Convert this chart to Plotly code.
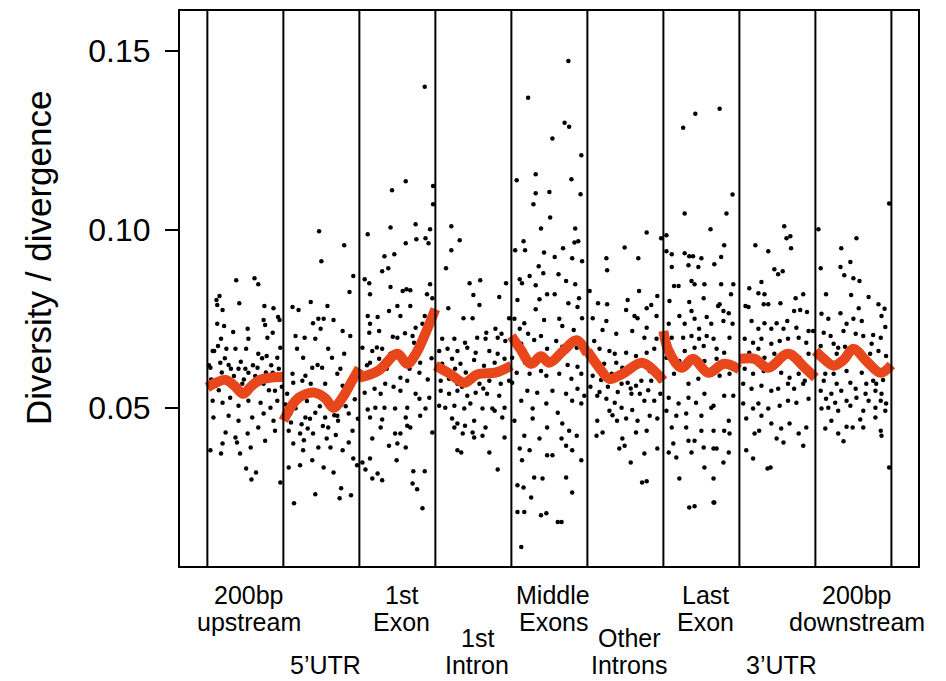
import plotly.graph_objects as go

# ---------------- data ----------------
regions = ["200bp\nupstream", "5’UTR", "1st\nExon", "1st\nIntron", "Middle\nExons",
           "Other\nIntrons", "Last\nExon", "3’UTR", "200bp\ndownstream"]

y_ticks = [0.05, 0.10, 0.15]
y_tick_text = ["0.05", "0.10", "0.15"]

# (relative position within region, diversity/divergence)
upstream_pts = [
    (0.38,0.0858),(0.62,0.0864),(0.67,0.0847),(0.16,0.0814),(0.12,0.0803),(0.13,0.0789),(0.20,0.0775),(0.42,0.0794),(0.75,0.0786),(0.87,0.0780),
    (0.13,0.0736),(0.22,0.0730),(0.53,0.0722),(0.74,0.0747),(0.76,0.0733),(0.93,0.0755),(0.95,0.0747),
    (0.34,0.0713),(0.54,0.0694),(0.18,0.0694),(0.79,0.0697),(0.86,0.0711),
    (0.07,0.0660),(0.14,0.0674),(0.25,0.0666),(0.37,0.0666),(0.51,0.0666),(0.67,0.0652),(0.78,0.0646),(0.92,0.0641),(0.96,0.0669),
    (0.04,0.0613),(0.17,0.0627),(0.28,0.0621),(0.41,0.0610),(0.54,0.0599),(0.66,0.0613),(0.86,0.0599),
    (0.11,0.0563),(0.21,0.0577),(0.33,0.0563),(0.46,0.0568),(0.59,0.0557),(0.74,0.0568),(0.89,0.0549),
    (0.07,0.0521),(0.20,0.0515),(0.30,0.0529),(0.41,0.0507),(0.54,0.0521),(0.70,0.0515),(0.83,0.0501),(0.92,0.0521),
    (0.08,0.0474),(0.28,0.0479),(0.41,0.0465),(0.59,0.0474),(0.74,0.0485),(0.87,0.0465),
    (0.24,0.0432),(0.37,0.0418),(0.53,0.0429),(0.67,0.0446),(0.89,0.0437),
    (0.20,0.0401),(0.39,0.0404),(0.57,0.0390),(0.76,0.0409),
    (0.04,0.0382),(0.18,0.0373),(0.43,0.0373),
    (0.51,0.0331),(0.64,0.0320),(0.58,0.0300),(0.96,0.0292),
    (0.02,0.0620),(0.05,0.0580),(0.09,0.0660),(0.15,0.0550),(0.19,0.0600),(0.23,0.0640),(0.27,0.0570),(0.31,0.0610),
    (0.35,0.0590),(0.39,0.0550),(0.44,0.0630),(0.48,0.0580),(0.50,0.0610),(0.56,0.0560),(0.60,0.0620),(0.63,0.0590),
    (0.69,0.0570),(0.72,0.0640),(0.77,0.0600),(0.81,0.0550),(0.84,0.0620),(0.90,0.0580),(0.94,0.0610),(0.98,0.0560),
]

utr5_pts = [
    (0.47,0.0995),(0.50,0.0911),(0.80,0.0956),(0.92,0.0870),(0.87,0.0825),
    (0.36,0.0797),(0.12,0.0783),(0.20,0.0775),(0.58,0.0786),
    (0.46,0.0750),(0.39,0.0738),(0.53,0.0750),(0.66,0.0747),(0.78,0.0716),(0.88,0.0702),(0.80,0.0652),
    (0.16,0.0702),(0.28,0.0697),(0.42,0.0694),(0.49,0.0722),
    (0.18,0.0666),(0.26,0.0641),(0.45,0.0621),(0.59,0.0666),(0.64,0.0641),(0.75,0.0610),
    (0.12,0.0596),(0.29,0.0591),(0.38,0.0613),(0.51,0.0613),(0.78,0.0563),(0.92,0.0577),
    (0.13,0.0571),(0.25,0.0577),(0.36,0.0568),(0.55,0.0568),(0.71,0.0596),
    (0.05,0.0540),(0.18,0.0535),(0.42,0.0540),(0.84,0.0563),
    (0.09,0.0485),(0.29,0.0474),(0.42,0.0487),(0.55,0.0474),(0.71,0.0479),(0.86,0.0485),
    (0.07,0.0437),(0.22,0.0429),(0.32,0.0443),(0.39,0.0429),(0.59,0.0446),(0.72,0.0465),(0.91,0.0437),
    (0.13,0.0401),(0.26,0.0382),(0.46,0.0390),(0.62,0.0390),(0.78,0.0382),(0.86,0.0404),
    (0.07,0.0334),(0.22,0.0340),(0.38,0.0354),(0.53,0.0334),(0.66,0.0320),(0.92,0.0359),(0.97,0.0340),
    (0.14,0.0234),(0.42,0.0259),(0.76,0.0276),(0.74,0.0248),(0.89,0.0256),
    (0.03,0.0510),(0.10,0.0460),(0.16,0.0500),(0.24,0.0455),(0.31,0.0520),(0.35,0.0470),(0.48,0.0505),(0.52,0.0450),
    (0.60,0.0520),(0.67,0.0480),(0.69,0.0425),(0.82,0.0505),(0.94,0.0525),(0.98,0.0470),(0.27,0.0410),(0.57,0.0415),
]

exon1_pts = [
    (0.86,0.1400),(0.61,0.1135),(0.43,0.1110),(0.11,0.0987),(0.74,0.1015),(0.41,0.1006),(0.61,0.0962),(0.75,0.0973),(0.87,0.0976),(0.93,0.1001),(0.91,0.0962),(0.97,0.1122),(0.97,0.1071),
    (0.33,0.0925),(0.46,0.0931),(0.38,0.0892),(0.30,0.0883),
    (0.07,0.0861),(0.13,0.0850),(0.14,0.0819),(0.41,0.0839),(0.57,0.0828),(0.62,0.0833),(0.67,0.0830),(0.89,0.0819),(0.93,0.0847),
    (0.11,0.0758),(0.24,0.0755),(0.39,0.0772),(0.50,0.0786),(0.54,0.0758),(0.67,0.0786),(0.86,0.0758),(0.96,0.0808),
    (0.14,0.0736),(0.13,0.0711),(0.26,0.0716),(0.50,0.0697),(0.74,0.0725),(0.83,0.0736),(0.70,0.0702),
    (0.04,0.0669),(0.17,0.0660),(0.30,0.0666),(0.41,0.0652),(0.72,0.0683),(0.86,0.0694),(0.80,0.0627),
    (0.14,0.0627),(0.26,0.0638),(0.21,0.0604),
    (0.54,0.0585),(0.34,0.0568),(0.63,0.0577),(0.79,0.0599),
    (0.07,0.0543),(0.20,0.0554),(0.54,0.0549),(0.74,0.0540),(0.79,0.0526),(0.92,0.0529),
    (0.11,0.0496),(0.21,0.0501),(0.33,0.0501),(0.47,0.0499),(0.63,0.0501),(0.87,0.0499),
    (0.14,0.0474),(0.30,0.0468),(0.61,0.0474),(0.80,0.0479),
    (0.28,0.0446),(0.63,0.0451),(0.67,0.0446),
    (0.17,0.0415),(0.47,0.0429),(0.54,0.0429),(0.50,0.0401),(0.96,0.0432),
    (0.39,0.0395),(0.61,0.0390),
    (0.04,0.0348),(0.14,0.0359),(0.49,0.0354),
    (0.08,0.0328),(0.24,0.0317),(0.71,0.0323),(0.86,0.0323),
    (0.17,0.0303),(0.30,0.0298),(0.70,0.0289),(0.76,0.0273),(0.83,0.0220),
    (0.02,0.0590),(0.10,0.0620),(0.23,0.0670),(0.36,0.0610),(0.45,0.0560),(0.58,0.0640),(0.66,0.0610),(0.90,0.0580),
    (0.95,0.0640),(0.44,0.0700),(0.60,0.0710),(0.28,0.0540),
]

intron1_pts = [
    (0.21,0.1009),(0.32,0.0970),(0.21,0.0942),(0.14,0.0892),(0.17,0.0780),
    (0.45,0.0850),(0.59,0.0858),(0.50,0.0817),(0.58,0.0789),(0.84,0.0811),(0.93,0.0850),
    (0.37,0.0752),(0.49,0.0752),(0.97,0.0752),(0.67,0.0711),(0.79,0.0722),(0.87,0.0708),
    (0.09,0.0694),(0.25,0.0694),(0.39,0.0683),(0.55,0.0697),(0.66,0.0694),(0.82,0.0697),(0.92,0.0688),
    (0.05,0.0660),(0.16,0.0666),(0.29,0.0660),(0.42,0.0669),(0.53,0.0655),(0.71,0.0660),(0.82,0.0652),(0.91,0.0638),
    (0.09,0.0624),(0.22,0.0638),(0.33,0.0624),(0.51,0.0635),(0.64,0.0619),(0.78,0.0627),
    (0.07,0.0577),(0.18,0.0582),(0.29,0.0568),(0.49,0.0577),(0.58,0.0568),(0.71,0.0577),(0.86,0.0568),(0.97,0.0577),
    (0.07,0.0549),(0.18,0.0540),(0.29,0.0549),(0.42,0.0535),(0.53,0.0543),(0.68,0.0540),(0.84,0.0535),
    (0.05,0.0507),(0.13,0.0501),(0.25,0.0507),(0.38,0.0499),(0.46,0.0513),(0.62,0.0499),(0.78,0.0493),(0.91,0.0501),
    (0.22,0.0471),(0.29,0.0457),(0.39,0.0451),(0.51,0.0465),(0.66,0.0446),(0.75,0.0499),(0.88,0.0474),
    (0.25,0.0446),(0.36,0.0429),(0.49,0.0432),(0.62,0.0423),(0.91,0.0418),
    (0.29,0.0382),(0.34,0.0376),(0.51,0.0418),(0.71,0.0376),(0.82,0.0328),
    (0.12,0.0600),(0.26,0.0610),(0.40,0.0600),(0.60,0.0600),(0.74,0.0605),(0.94,0.0610),(0.35,0.0560),(0.63,0.0555),
]

middle_exon_pts = [
    (0.75,0.1472),(0.22,0.1369),(0.70,0.1299),(0.76,0.1288),(0.54,0.1255),(0.92,0.1208),(0.07,0.1138),(0.32,0.1155),
    (0.32,0.1102),(0.50,0.1105),(0.29,0.1071),(0.79,0.1141),(0.91,0.1099),(0.51,0.1034),(0.39,0.1003),(0.84,0.1003),
    (0.83,0.0964),(0.88,0.0967),(0.16,0.0967),(0.05,0.0942),(0.18,0.0942),(0.43,0.0936),(0.68,0.0948),(0.93,0.0911),
    (0.57,0.0923),(0.80,0.0920),(0.36,0.0897),(0.42,0.0878),(0.62,0.0875),(0.11,0.0861),(0.14,0.0850),(0.32,0.0844),
    (0.24,0.0870),(0.72,0.0856),(0.84,0.0847),
    (0.08,0.0803),(0.37,0.0805),(0.47,0.0819),(0.57,0.0819),(0.75,0.0794),(0.89,0.0808),(0.87,0.0783),
    (0.04,0.0750),(0.17,0.0738),(0.32,0.0777),(0.43,0.0747),(0.63,0.0750),(0.67,0.0730),(0.93,0.0752),
    (0.11,0.0722),(0.22,0.0708),(0.39,0.0702),(0.59,0.0688),(0.82,0.0719),
    (0.13,0.0680),(0.30,0.0691),(0.47,0.0666),(0.67,0.0672),(0.86,0.0669),
    (0.01,0.0641),(0.18,0.0627),(0.39,0.0604),(0.54,0.0632),(0.74,0.0621),(0.87,0.0616),
    (0.07,0.0599),(0.24,0.0596),(0.46,0.0591),(0.63,0.0596),(0.79,0.0582),(0.92,0.0596),
    (0.01,0.0571),(0.21,0.0549),(0.34,0.0543),(0.54,0.0549),(0.72,0.0540),(0.87,0.0554),(0.96,0.0535),
    (0.13,0.0521),(0.28,0.0499),(0.46,0.0513),(0.61,0.0487),(0.80,0.0521),(0.92,0.0513),
    (0.04,0.0465),(0.28,0.0471),(0.47,0.0446),(0.67,0.0457),(0.76,0.0437),
    (0.17,0.0423),(0.37,0.0415),(0.66,0.0415),(0.86,0.0423),
    (0.11,0.0387),(0.24,0.0382),(0.47,0.0368),(0.72,0.0395),(0.80,0.0382),
    (0.14,0.0354),(0.54,0.0368),(0.92,0.0354),
    (0.08,0.0284),(0.16,0.0278),(0.26,0.0250),(0.30,0.0306),(0.41,0.0303),(0.72,0.0306),(0.80,0.0264),
    (0.08,0.0209),(0.17,0.0209),(0.39,0.0200),(0.46,0.0206),(0.61,0.0181),(0.66,0.0181),
    (0.13,0.0111),
]

other_intron_pts = [
    (0.78,0.0992),(0.49,0.0950),(0.25,0.0920),(0.67,0.0920),(0.26,0.0886),(0.97,0.0976),
    (0.03,0.0828),(0.68,0.0828),(0.14,0.0794),(0.26,0.0791),(0.53,0.0803),(0.78,0.0780),(0.84,0.0789),(0.92,0.0814),
    (0.07,0.0752),(0.25,0.0744),(0.51,0.0775),(0.62,0.0758),(0.66,0.0752),(0.91,0.0758),(0.78,0.0725),
    (0.09,0.0688),(0.20,0.0719),(0.38,0.0708),(0.59,0.0716),(0.75,0.0697),(0.91,0.0694),
    (0.16,0.0666),(0.29,0.0660),(0.36,0.0652),(0.51,0.0655),(0.64,0.0646),(0.78,0.0655),(0.88,0.0666),
    (0.09,0.0627),(0.22,0.0624),(0.38,0.0627),(0.46,0.0613),(0.71,0.0627),(0.82,0.0604),(0.95,0.0577),
    (0.07,0.0591),(0.18,0.0579),(0.32,0.0596),(0.45,0.0568),(0.53,0.0571),(0.64,0.0563),(0.71,0.0577),(0.84,0.0577),
    (0.13,0.0535),(0.25,0.0526),(0.36,0.0515),(0.45,0.0501),(0.58,0.0540),(0.75,0.0521),(0.88,0.0521),
    (0.13,0.0465),(0.29,0.0493),(0.39,0.0465),(0.51,0.0471),(0.66,0.0465),(0.82,0.0479),(0.92,0.0471),
    (0.12,0.0423),(0.20,0.0432),(0.46,0.0415),(0.64,0.0432),(0.78,0.0437),
    (0.42,0.0387),(0.49,0.0395),(0.75,0.0373),(0.92,0.0387),
    (0.57,0.0348),(0.72,0.0292),(0.78,0.0295),
    (0.04,0.0560),(0.16,0.0545),(0.27,0.0560),(0.40,0.0545),(0.57,0.0555),(0.69,0.0540),(0.80,0.0550),(0.96,0.0540),
    (0.33,0.0480),(0.59,0.0495),
]

last_exon_pts = [
    (0.74,0.1338),(0.42,0.1324),(0.26,0.1285),(0.91,0.1098),(0.28,0.1045),(0.83,0.1045),(0.62,0.1001),(0.80,0.0956),(0.04,0.0984),
    (0.04,0.0939),(0.11,0.0931),(0.28,0.0934),(0.34,0.0925),(0.39,0.0925),(0.50,0.0920),(0.76,0.0923),
    (0.11,0.0895),(0.33,0.0900),(0.46,0.0895),(0.67,0.0903),
    (0.14,0.0842),(0.20,0.0842),(0.37,0.0856),(0.41,0.0847),(0.54,0.0847),(0.76,0.0847),(0.92,0.0847),
    (0.08,0.0800),(0.34,0.0797),(0.53,0.0808),(0.72,0.0786),(0.79,0.0772),(0.89,0.0819),
    (0.21,0.0758),(0.37,0.0772),(0.41,0.0750),(0.57,0.0755),(0.74,0.0791),(0.86,0.0766),
    (0.07,0.0736),(0.28,0.0736),(0.47,0.0722),(0.63,0.0736),(0.79,0.0744),(0.91,0.0736),
    (0.11,0.0697),(0.26,0.0697),(0.37,0.0702),(0.47,0.0694),(0.57,0.0702),(0.66,0.0694),(0.87,0.0697),
    (0.08,0.0669),(0.28,0.0660),(0.41,0.0669),(0.53,0.0674),(0.70,0.0666),(0.80,0.0655),
    (0.04,0.0641),(0.21,0.0632),(0.37,0.0641),(0.54,0.0632),(0.70,0.0638),(0.87,0.0619),
    (0.14,0.0596),(0.33,0.0568),(0.46,0.0582),(0.59,0.0596),(0.74,0.0591),(0.87,0.0596),
    (0.07,0.0529),(0.20,0.0513),(0.33,0.0529),(0.43,0.0515),(0.54,0.0540),(0.66,0.0507),(0.80,0.0535),(0.92,0.0535),
    (0.04,0.0493),(0.17,0.0479),(0.30,0.0485),(0.50,0.0479),(0.63,0.0501),(0.86,0.0465),
    (0.11,0.0446),(0.30,0.0446),(0.50,0.0437),(0.66,0.0437),(0.80,0.0437),(0.87,0.0429),
    (0.13,0.0401),(0.33,0.0409),(0.41,0.0409),(0.53,0.0390),(0.70,0.0387),(0.86,0.0376),
    (0.07,0.0376),(0.17,0.0362),(0.37,0.0376),(0.54,0.0334),(0.66,0.0387),(0.79,0.0348),
    (0.21,0.0303),(0.66,0.0303),
    (0.34,0.0222),(0.41,0.0225),(0.66,0.0236),(0.67,0.0236),
]

utr3_pts = [
    (0.59,0.1009),(0.62,0.0976),(0.67,0.0981),(0.68,0.0948),(0.21,0.0956),(0.38,0.0939),(0.46,0.0889),(0.51,0.0875),(0.57,0.0883),(0.29,0.0853),(0.13,0.0836),
    (0.08,0.0786),(0.12,0.0783),(0.25,0.0822),(0.33,0.0819),(0.32,0.0791),(0.38,0.0791),(0.54,0.0794),(0.74,0.0808),(0.84,0.0819),(0.80,0.0775),(0.89,0.0769),(0.72,0.0772),
    (0.16,0.0744),(0.25,0.0722),(0.33,0.0738),(0.42,0.0722),(0.49,0.0738),(0.58,0.0722),(0.63,0.0744),(0.75,0.0725),(0.91,0.0716),(0.97,0.0716),
    (0.07,0.0694),(0.18,0.0683),(0.29,0.0694),(0.42,0.0680),(0.53,0.0688),(0.64,0.0694),(0.78,0.0697),(0.88,0.0683),
    (0.13,0.0655),(0.25,0.0666),(0.33,0.0641),(0.46,0.0652),(0.59,0.0641),(0.71,0.0655),(0.79,0.0641),(0.91,0.0652),
    (0.07,0.0610),(0.18,0.0596),(0.32,0.0604),(0.45,0.0613),(0.55,0.0599),(0.66,0.0585),(0.78,0.0596),(0.86,0.0577),
    (0.05,0.0568),(0.16,0.0554),(0.29,0.0563),(0.42,0.0549),(0.51,0.0554),(0.64,0.0568),(0.72,0.0554),(0.84,0.0568),
    (0.05,0.0513),(0.18,0.0499),(0.25,0.0513),(0.38,0.0499),(0.53,0.0507),(0.64,0.0521),(0.75,0.0515),(0.91,0.0526),
    (0.09,0.0471),(0.29,0.0479),(0.42,0.0457),(0.55,0.0443),(0.66,0.0457),(0.78,0.0429),(0.88,0.0446),
    (0.20,0.0429),(0.26,0.0437),(0.49,0.0415),(0.58,0.0404),(0.84,0.0395),
    (0.09,0.0382),(0.18,0.0359),(0.37,0.0331),(0.41,0.0334),
]

downstream_pts = [
    (0.04,0.1001),(0.54,0.0976),(0.97,0.1073),(0.34,0.0948),(0.07,0.0892),(0.33,0.0895),(0.46,0.0909),(0.38,0.0872),(0.50,0.0864),(0.58,0.0856),
    (0.14,0.0819),(0.47,0.0817),(0.70,0.0811),(0.08,0.0764),(0.33,0.0766),(0.57,0.0780),(0.83,0.0791),(0.91,0.0778),
    (0.17,0.0750),(0.41,0.0736),(0.50,0.0750),(0.61,0.0744),(0.87,0.0758),(0.92,0.0727),
    (0.11,0.0711),(0.20,0.0702),(0.37,0.0716),(0.53,0.0708),(0.63,0.0702),(0.76,0.0705),(0.86,0.0697),
    (0.07,0.0674),(0.24,0.0680),(0.30,0.0669),(0.39,0.0672),(0.54,0.0666),(0.74,0.0680),(0.83,0.0660),
    (0.14,0.0641),(0.28,0.0652),(0.43,0.0646),(0.72,0.0652),(0.93,0.0646),
    (0.13,0.0596),(0.24,0.0596),(0.41,0.0604),(0.61,0.0599),(0.76,0.0577),(0.89,0.0579),
    (0.11,0.0577),(0.28,0.0568),(0.46,0.0571),(0.67,0.0568),(0.80,0.0568),
    (0.07,0.0549),(0.21,0.0540),(0.34,0.0549),(0.53,0.0554),(0.66,0.0540),(0.79,0.0549),(0.87,0.0540),
    (0.14,0.0526),(0.26,0.0515),(0.41,0.0521),(0.54,0.0529),(0.70,0.0521),(0.86,0.0521),(0.93,0.0513),
    (0.08,0.0499),(0.17,0.0501),(0.30,0.0493),(0.46,0.0507),(0.63,0.0493),(0.79,0.0501),(0.92,0.0493),
    (0.21,0.0465),(0.59,0.0468),(0.79,0.0474),
    (0.13,0.0443),(0.30,0.0429),(0.41,0.0448),(0.49,0.0446),(0.63,0.0446),(0.86,0.0437),(0.87,0.0423),
    (0.37,0.0407),(0.97,0.0334),
]

# smoothed trend (relative position, value) per region
upstream_trend = ([0, 0.12, 0.24, 0.36, 0.47, 0.58, 0.70, 0.85, 1.0],
                  [0.0558, 0.0572, 0.0579, 0.0562, 0.0540, 0.0562, 0.0580, 0.0586, 0.0588])
utr5_trend = ([0, 0.16, 0.30, 0.42, 0.55, 0.66, 0.78, 0.90, 1.0],
              [0.0465, 0.0521, 0.0540, 0.0543, 0.0528, 0.0501, 0.0530, 0.0575, 0.0612])
exon1_trend = ([0, 0.25, 0.50, 0.63, 0.75, 0.87, 1.0],
               [0.0585, 0.0605, 0.0652, 0.0624, 0.0655, 0.0710, 0.0777])
intron1_trend = ([0, 0.20, 0.38, 0.55, 0.80, 1.0],
                 [0.0619, 0.0595, 0.0571, 0.0594, 0.0600, 0.0619])
middle_exon_trend = ([0, 0.12, 0.26, 0.39, 0.50, 0.68, 0.86, 1.0],
                     [0.0702, 0.0665, 0.0624, 0.0645, 0.0627, 0.0660, 0.0690, 0.0652])
other_intron_trend = ([0, 0.15, 0.29, 0.46, 0.72, 0.90, 1.0],
                      [0.0660, 0.0615, 0.0582, 0.0596, 0.0627, 0.0600, 0.0577])
last_exon_trend = ([0, 0.07, 0.24, 0.39, 0.59, 0.80, 1.0],
                   [0.0716, 0.0660, 0.0613, 0.0638, 0.0599, 0.0624, 0.0608])
utr3_trend = ([0, 0.20, 0.38, 0.64, 0.86, 1.0],
              [0.0638, 0.0638, 0.0613, 0.0652, 0.0613, 0.0585])
downstream_trend = ([0, 0.10, 0.24, 0.37, 0.50, 0.68, 0.86, 1.0],
                    [0.0660, 0.0640, 0.0619, 0.0635, 0.0666, 0.0630, 0.0599, 0.0621])

all_points = [upstream_pts, utr5_pts, exon1_pts, intron1_pts, middle_exon_pts,
              other_intron_pts, last_exon_pts, utr3_pts, downstream_pts]
all_trends = [upstream_trend, utr5_trend, exon1_trend, intron1_trend, middle_exon_trend,
              other_intron_trend, last_exon_trend, utr3_trend, downstream_trend]

# ---------------- layout config ----------------
label_row = [0, 1, 0, 1, 0, 1, 0, 1, 0]   # 0 = upper label row, 1 = lower label row
# the page adds an 8px body margin, so the figure is sized to fill the 946x681 window
OFF = 8
W, H = 946 - OFF, 681 - OFF
M_L, M_R, M_T, M_B = 180 - OFF, 28, 9 - OFF, 115
plot_w = W - M_L - M_R
plot_h = H - M_T - M_B
FONT = "Liberation Sans, Arial, Helvetica, sans-serif"
RED = "#E8461B"

fig = go.Figure()

xs, ys = [], []
for i, pts in enumerate(all_points):
    for f, v in pts:
        xs.append(i + f)
        ys.append(v)
fig.add_trace(go.Scatter(x=xs, y=ys, mode="markers",
                         marker=dict(color="black", size=4.5, line=dict(width=0)),
                         hoverinfo="skip", showlegend=False))

for i, (fs, vs) in enumerate(all_trends):
    fig.add_trace(go.Scatter(x=[i + f for f in fs], y=vs, mode="lines",
                             line=dict(color=RED, width=10, shape="spline", smoothing=1.0),
                             hoverinfo="skip", showlegend=False))

shapes = []
for b in range(len(regions) + 1):
    shapes.append(dict(type="line", xref="x", yref="paper", x0=b, x1=b, y0=0, y1=1,
                       line=dict(color="black", width=2), layer="above"))

def page_y_to_paper(ypix):
    # ypix measured in the 946x681 window
    return (M_T + plot_h - (ypix - OFF)) / plot_h

annotations = []
row_base = {0: 622, 1: 665}
line_gap = 27
for i, (lab, row) in enumerate(zip(regions, label_row)):
    lines = lab.split("\n")
    n = len(lines)
    for j, txt in enumerate(lines):
        ypix = row_base[row] - line_gap * (n - 1 - j)
        annotations.append(dict(text=txt, x=i + 0.5, xref="x", y=page_y_to_paper(ypix), yref="paper",
                                xanchor="center", yanchor="middle", showarrow=False, xshift=4,
                                font=dict(family=FONT, size=25, color="black")))

annotations.append(dict(text="Diversity / divergence", textangle=-90,
                        x=(38 - 180) / plot_w, xref="paper",
                        y=page_y_to_paper(257), yref="paper",
                        xanchor="center", yanchor="middle", showarrow=False,
                        font=dict(family=FONT, size=35, color="black")))

fig.update_layout(
    width=W, height=H,
    margin=dict(l=M_L, r=M_R, t=M_T, b=M_B, pad=0),
    paper_bgcolor="white", plot_bgcolor="white",
    showlegend=False,
    shapes=shapes, annotations=annotations,
    xaxis=dict(range=[-0.36, 9.35], showticklabels=False, ticks="", showgrid=False,
               zeroline=False, showline=True, mirror=True, linecolor="black", linewidth=2),
    yaxis=dict(range=[0.0058, 0.1612], tickvals=y_ticks, ticktext=y_tick_text,
               ticks="outside", ticklen=13, tickwidth=2, tickcolor="black",
               ticklabelstandoff=8,
               tickfont=dict(family=FONT, size=32, color="black"),
               showgrid=False, zeroline=False, showline=True, mirror=True,
               linecolor="black", linewidth=2),
)

fig.write_html("out.html")
